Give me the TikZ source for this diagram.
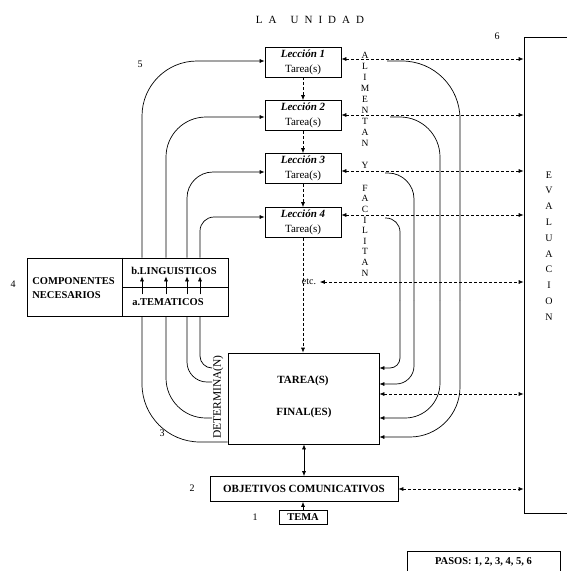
\documentclass[tikz,border=0pt]{standalone}
\usepackage{fontspec}
\setmainfont{Liberation Serif}
\usetikzlibrary{arrows.meta}
\begin{document}
\begin{tikzpicture}[x=1pt,y=-1pt,line width=0.7pt,
  >={Latex[length=5pt,width=4pt]},
  box/.style={draw,inner sep=0pt,align=center},
  dsh/.style={dash pattern=on 3pt off 2pt},
  lab/.style={font=\fontsize{10}{12}\selectfont},
  lesson/.style={box,minimum width=76pt,minimum height=30pt,font=\fontsize{11}{15}\selectfont},
  bld/.style={font=\fontsize{11}{13}\selectfont\bfseries}]
\useasboundingbox (0,0) rectangle (567,571);

% title
\node[font=\fontsize{11}{13}\selectfont] (title) at (310,20)
  {L\hspace{6pt}A\hspace{14pt}U\hspace{6pt}N\hspace{6pt}I\hspace{6pt}D\hspace{6pt}A\hspace{6pt}D};

% lessons
\node[lesson] (L1) at (303,62)    {\textbf{\textit{Lección 1}}\\Tarea(s)};
\node[lesson] (L2) at (303,115.5) {\textbf{\textit{Lección 2}}\\Tarea(s)};
\node[lesson] (L3) at (303,168.5) {\textbf{\textit{Lección 3}}\\Tarea(s)};
\node[lesson] (L4) at (303,222.5) {\textbf{\textit{Lección 4}}\\Tarea(s)};

% final task box
\node[box,minimum width=151pt,minimum height=91pt] (final) at (303.5,398.5) {};
\node[bld] (tf1) at (303,381) {TAREA(S)};
\node[bld] (tf2) at (304,413) {FINAL(ES)};
\node[font=\fontsize{11.5}{13}\selectfont,rotate=90] (det) at (218,397) {DETERMINA(N)};

% objectives, theme
\node[box,bld,minimum width=188pt,minimum height=25pt] (obj) at (304,489) {OBJETIVOS COMUNICATIVOS};
\node[box,font=\fontsize{10.5}{12}\selectfont\bfseries,minimum width=48pt,minimum height=14pt] (tema) at (303,517) {TEMA};

% evaluation
\node[box,minimum width=50pt,minimum height=476pt] (eval) at (549,275) {};
\node[font=\fontsize{10}{15.8}\selectfont,align=center,inner sep=0pt] (evt) at (549,246)
  {E\\V\\A\\L\\U\\A\\C\\I\\O\\N};

% alimentan y facilitan
\node[font=\fontsize{9.5}{11}\selectfont,align=center,inner sep=0pt] (alim) at (365,99)
  {A\\L\\I\\M\\E\\N\\T\\A\\N};
\node[font=\fontsize{9.5}{11}\selectfont,inner sep=0pt] (yy) at (365,165) {Y};
\node[font=\fontsize{9.5}{10.6}\selectfont,align=center,inner sep=0pt] (facil) at (365,230.5)
  {F\\A\\C\\I\\L\\I\\T\\A\\N};

% components
\node[box,minimum width=201pt,minimum height=58pt] (comp) at (127.5,287) {};
\draw (comp.north -| 122,0) -- (comp.south -| 122,0);
\draw (comp.east -| 122,0) -- (comp.east);
\node[font=\fontsize{10.5}{14}\selectfont\bfseries,align=left,anchor=west,inner sep=0pt] (compt) at (32,288)
  {COMPONENTES\\NECESARIOS};
\node[font=\fontsize{10.5}{12}\selectfont\bfseries,inner sep=0pt] (ling) at (174,271) {b.LINGUISTICOS};
\node[font=\fontsize{10.5}{12}\selectfont\bfseries,inner sep=0pt] (tema2) at (168,302) {a.TEMATICOS};
\foreach \x in {142,166,187,200}{
  \draw[->] (comp.south -| \x,0) ++(0,-22) -- ++(0,-18);
}

% etc and pasos
\node[lab] (etc) at (309,282) {etc.};
\node[box,font=\fontsize{10.5}{12}\selectfont\bfseries,minimum width=153pt,minimum height=21pt] (pasos) at (483.5,561.5)
  {PASOS: 1, 2, 3, 4, 5, 6};

% step numbers
\node[lab] (n1) at (255,517) {1};
\node[lab] (n2) at (192,488) {2};
\node[lab] (n3) at (162,433) {3};
\node[lab] (n4) at (13,284) {4};
\node[lab] (n5) at (140,64) {5};
\node[lab] (n6) at (497,36) {6};

% lesson chain
\draw[dsh,->] (L1.south) -- (L2.north);
\draw[dsh,->] (L2.south) -- (L3.north);
\draw[dsh,->] (L3.south) -- (L4.north);
\draw[dsh,->] (L4.south) -- (L4.south |- final.north);

% final <-> objectives <- tema
\draw[<->] (final.south -| obj.north) -- (obj.north);
\draw[->] (tema.north) -- (tema.north |- obj.south);

% left curves (top part)
\draw[->,rounded corners=55pt] (comp.north -| 142,0) |- (L1.west |- 0,61);
\draw[->,rounded corners=40pt] (comp.north -| 166,0) |- (L2.west |- 0,117);
\draw[->,rounded corners=26pt] (comp.north -| 187,0) |- (L3.west |- 0,172);
\draw[->,rounded corners=14pt] (comp.north -| 200,0) |- (L4.west |- 0,217);

% left curves (bottom part)
\coordinate (d2) at (212,418);
\coordinate (d3) at (212,382);
\coordinate (d4) at (212,368);
\draw[rounded corners=58pt] (comp.south -| 142,0) |- (final.west |- 0,442);
\draw[rounded corners=40pt] (comp.south -| 166,0) |- (d2);
\draw[rounded corners=20pt] (comp.south -| 187,0) |- (d3);
\draw[rounded corners=12pt] (comp.south -| 200,0) |- (d4);

% right curves
\coordinate (r1) at (387,61);
\coordinate (r2) at (390,117);
\coordinate (r3) at (385,173);
\coordinate (r4) at (385,218);
\coordinate (v1) at (460,300);
\coordinate (v2) at (440,300);
\coordinate (v3) at (414,300);
\coordinate (v4) at (400,300);
\draw[rounded corners=58pt] (r1) -| (v1);
\draw[rounded corners=40pt] (r2) -| (v2);
\draw[rounded corners=26pt] (r3) -| (v3);
\draw[rounded corners=14pt] (r4) -| (v4);
\draw[->,rounded corners=50pt] (v1) |- (final.east |- 0,437);
\draw[->,rounded corners=35pt] (v2) |- (final.east |- 0,418);
\draw[->,rounded corners=18pt] (v3) |- (final.east |- 0,384);
\draw[->,rounded corners=10pt] (v4) |- (final.east |- 0,368);

% dashed links to evaluation
\draw[dsh,<->] (L1.east |- 0,59) -- (eval.west |- 0,59);
\draw[dsh,<->] (L2.east |- 0,115) -- (eval.west |- 0,115);
\draw[dsh,<->] (L3.east |- 0,171) -- (eval.west |- 0,171);
\draw[dsh,<->] (L4.east |- 0,215) -- (eval.west |- 0,215);
\draw[dsh,<->] (etc.east) -- (eval.west |- etc.east);
\draw[dsh,<->] (final.east |- 0,394) -- (eval.west |- 0,394);
\draw[dsh,<->] (obj.east) -- (eval.west |- obj.east);
\end{tikzpicture}
\end{document}
